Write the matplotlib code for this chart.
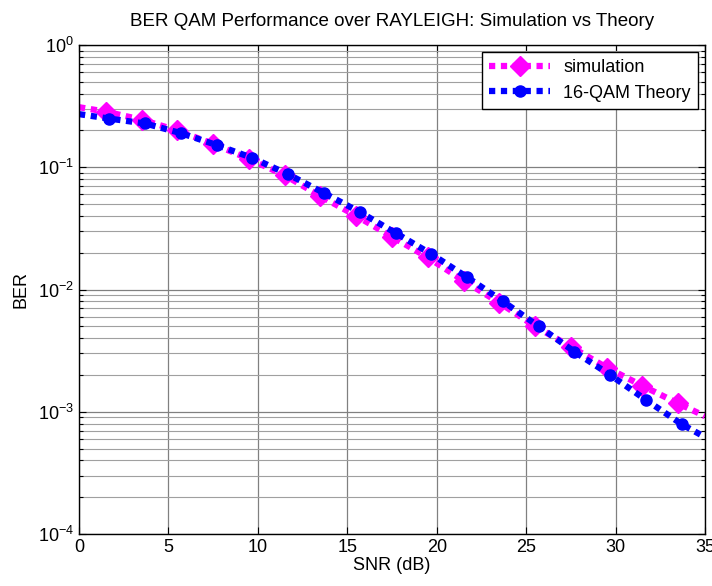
import matplotlib
matplotlib.use("Agg")
import matplotlib.pyplot as plt
from matplotlib.ticker import LogLocator, NullFormatter, FixedLocator

plt.rcParams['font.family'] = ['Liberation Sans', 'DejaVu Sans']
plt.rcParams['mathtext.fontset'] = 'custom'
plt.rcParams['mathtext.rm'] = 'Liberation Sans'
plt.rcParams['mathtext.it'] = 'Liberation Sans:italic'
plt.rcParams['mathtext.bf'] = 'Liberation Sans:bold'
plt.rcParams['mathtext.default'] = 'regular'

snr_sim = [0, 1.5, 3.5, 5.5, 7.5, 9.5, 11.5, 13.5, 15.5, 17.5, 19.5, 21.5,
           23.5, 25.5, 27.5, 29.5, 31.5, 33.5, 35]
ber_sim = [0.31, 0.285, 0.245, 0.200, 0.155, 0.117, 0.086, 0.058, 0.040, 0.027,
           0.0183, 0.0118, 0.0078, 0.0050, 0.0034, 0.0023, 0.00163, 0.00117, 0.00092]

snr_th = [0, 1.7, 3.7, 5.7, 7.7, 9.7, 11.7, 13.7, 15.7, 17.7, 19.7, 21.7,
          23.7, 25.7, 27.7, 29.7, 31.7, 33.7, 35]
ber_th = [0.272, 0.25, 0.228, 0.19, 0.152, 0.119, 0.0875, 0.0615, 0.043, 0.029,
          0.0195, 0.0126, 0.0080, 0.0050, 0.0031, 0.0020, 0.00125, 0.00079, 0.00062]

x_ticks = [0, 5, 10, 15, 20, 25, 30, 35]

fig = plt.figure(figsize=(7.12, 5.86), dpi=100)
ax = fig.add_axes([79/712, (586-534)/586, (705-79)/712, (534-45)/586])

ax.semilogy(snr_sim, ber_sim, color='#ff00ff', linestyle=(0, (1.0, 0.9)), lw=4.5,
            dash_capstyle='butt', marker='D', markersize=10,
            markevery=list(range(1, len(snr_sim) - 1)), label='simulation')
ax.semilogy(snr_th, ber_th, color='#0000ff', linestyle=(0, (1.0, 0.9)), lw=4.5,
            dash_capstyle='butt', marker='o', markersize=8,
            markevery=list(range(1, len(snr_th) - 1)), label='16-QAM Theory')

ax.set_xlim(0, 35)
ax.set_ylim(1e-4, 1)
ax.xaxis.set_major_locator(FixedLocator(x_ticks))
ax.yaxis.set_major_locator(LogLocator(base=10, numticks=10))
ax.yaxis.set_minor_locator(LogLocator(base=10, subs=range(2, 10), numticks=20))
ax.yaxis.set_minor_formatter(NullFormatter())

ax.grid(True, which='major', color='#808080', lw=0.9, ls='-')
ax.grid(True, which='minor', axis='y', color='#a0a0a0', lw=0.8, ls='-')
ax.set_axisbelow(True)

ax.tick_params(which='both', direction='in', top=True, right=True, labelsize=13,
               colors='black', width=0.8)
ax.tick_params(which='major', length=5)
ax.tick_params(which='minor', length=3)
for s in ax.spines.values():
    s.set_linewidth(1.0)

ax.set_title('BER QAM Performance over RAYLEIGH: Simulation vs Theory', fontsize=13.5, pad=14)
ax.set_xlabel('SNR (dB)', fontsize=13, labelpad=1)
ax.set_ylabel('BER', fontsize=13, labelpad=6)

leg = ax.legend(loc='upper right', fontsize=13, fancybox=False, framealpha=1,
                edgecolor='black', handlelength=3.4, borderaxespad=0.4,
                handletextpad=0.7, labelspacing=0.45)
leg.get_frame().set_linewidth(1.0)

fig.savefig('out.png', dpi=100)
